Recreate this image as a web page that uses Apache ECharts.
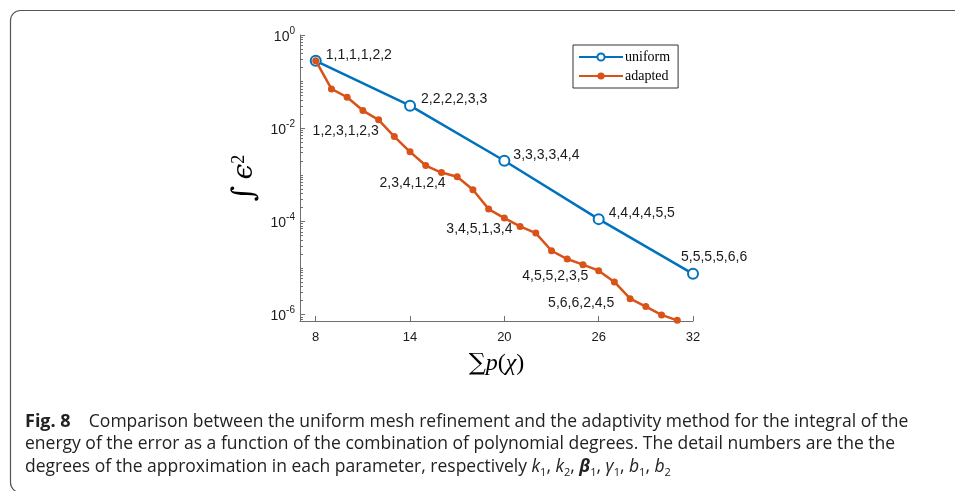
<!DOCTYPE html>
<html>
<head>
<meta charset="utf-8">
<script src="https://cdn.jsdelivr.net/npm/echarts@6/dist/echarts.min.js"></script>
<style>
html, body { margin: 0; padding: 0; background: #fff; }
#main { width: 955px; height: 491px; }
</style>
</head>
<body>
<div id="main"></div>
<script>
// sum of polynomial degrees -> integral of energy of the error
const uniformX = [8, 14, 20, 26, 32]
const uniformErr = [0.28, 0.0305, 2.0e-3, 1.12e-4, 7.5e-6]
const uniformTags = ['1,1,1,1,2,2', '2,2,2,2,3,3', '3,3,3,3,4,4', '4,4,4,4,5,5', '5,5,5,5,6,6']

const adaptedX = [8, 9, 10, 11, 12, 13, 14, 15, 16, 17, 18, 19, 20, 21, 22, 23, 24, 25, 26, 27, 28, 29, 30, 31]
const adaptedErr = [0.281, 0.0697, 0.0462, 0.0239, 0.0151, 6.6e-3, 3.11e-3, 1.58e-3, 1.12e-3, 9.06e-4,
    4.77e-4, 1.84e-4, 1.18e-4, 7.8e-5, 5.63e-5, 2.35e-5, 1.56e-5, 1.18e-5, 8.78e-6, 5.02e-6,
    2.2e-6, 1.49e-6, 9.86e-7, 7.55e-7]
const adaptedTagX = [12, 16, 20, 24, 28]
const adaptedTags = ['1,2,3,1,2,3', '2,3,4,1,2,4', '3,4,5,1,3,4', '4,5,5,2,3,5', '5,6,6,2,4,5']

const xTicks = [8, 14, 20, 26, 32]
const yTicks = [1e-6, 1e-4, 1e-2, 1]

const blue = '#0072BD'
const orange = '#D95319'
const yMin = 7.3e-7

// minor log ticks (2..9 x 10^k and the odd decades)
let yMinor = []
for (let k = -7; k < 0; k++) {
    for (let m = 1; m < 10; m++) {
        let v = m * Math.pow(10, k)
        if (v >= yMin && yTicks.indexOf(v) < 0 && !(m == 1 && k % 2 == 0)) yMinor.push(v)
    }
}

// label placement, relative to the point (text starts at dx)
const uniformOffsets = [[10, -6], [11, -6], [9, -6], [10, -6], [-12, -17]]
const adaptedOffsets = [[-66, 11], [-62, 11], [-58, 11], [-45, 17], [-82, 4]]

let tagLabel = {
    show: true,
    position: 'inside',
    align: 'left',
    verticalAlign: 'middle',
    fontFamily: 'Liberation Sans, Arial, sans-serif',
    fontSize: 14,
    color: '#1a1a1a'
}

let uniformData = uniformX.map((x, i) => ({
    value: [x, uniformErr[i]],
    label: Object.assign({}, tagLabel, { formatter: uniformTags[i], offset: uniformOffsets[i] })
}))

let adaptedData = adaptedX.map((x, i) => {
    let j = adaptedTagX.indexOf(x)
    let item = { value: [x, adaptedErr[i]] }
    if (j >= 0) item.label = Object.assign({}, tagLabel, { formatter: adaptedTags[j], offset: adaptedOffsets[j] })
    return item
})

let myChart = echarts.init(document.getElementById('main'))

let axisGray = '#6e6e6e'
let capFont = 'Open Sans, Noto Sans, sans-serif'

let option = {
    animation: false,
    backgroundColor: '#fff',
    grid: {
        left: 300,
        right: 262,
        top: 35,
        bottom: 170,
        containLabel: false
    },
    legend: {
        left: 573,
        top: 45,
        orient: 'vertical',
        data: ['uniform', 'adapted'],
        borderColor: '#333',
        borderWidth: 1,
        backgroundColor: '#fff',
        padding: [4, 8, 4, 5],
        itemGap: 3,
        itemWidth: 44,
        itemHeight: 9,
        textStyle: {
            fontFamily: 'Liberation Serif, Times New Roman, serif',
            fontSize: 14,
            lineHeight: 16,
            color: '#000',
            padding: [0, 0, 0, -3]
        }
    },
    xAxis: {
        type: 'value',
        min: 7,
        max: 32,
        name: '{s|∑}{i|p}{n|(}{i|χ}{n|)}',
        nameLocation: 'middle',
        nameGap: 31,
        nameTextStyle: {
            rich: {
                s: { fontFamily: 'DejaVu Serif, serif', fontSize: 24, color: '#000' },
                i: { fontFamily: 'Liberation Serif, serif', fontStyle: 'italic', fontSize: 24, color: '#000' },
                n: { fontFamily: 'Liberation Serif, serif', fontSize: 24, color: '#000' }
            }
        },
        splitLine: { show: false },
        axisLine: { lineStyle: { color: axisGray, width: 1 } },
        axisTick: { inside: true, length: 5, customValues: xTicks, lineStyle: { color: axisGray } },
        axisLabel: {
            customValues: xTicks,
            margin: 10,
            fontFamily: 'Liberation Sans, Arial, sans-serif',
            fontSize: 13,
            color: '#1a1a1a'
        }
    },
    yAxis: [{
        type: 'log',
        min: yMin,
        max: 1,
        name: '{i|∫}{e|ϵ}{s|2}',
        nameLocation: 'middle',
        nameRotate: 90,
        nameGap: 40,
        nameTextStyle: {
            rich: {
                i: { fontFamily: 'DejaVu Serif, serif', fontSize: 30, color: '#000', padding: [0, 6, 0, 0] },
                e: { fontFamily: 'DejaVu Serif, serif', fontStyle: 'italic', fontSize: 28, color: '#000' },
                s: { fontFamily: 'Liberation Serif, serif', fontSize: 18, color: '#000', verticalAlign: 'top', lineHeight: 18 }
            }
        },
        splitLine: { show: false },
        axisLine: { show: true, lineStyle: { color: axisGray, width: 1 } },
        axisTick: { inside: true, length: 5, customValues: yTicks, lineStyle: { color: axisGray } },
        axisLabel: {
            customValues: yTicks,
            margin: 5,
            formatter: function (v) {
                return '{b|10}{s|' + Math.round(Math.log10(v)) + '}'
            },
            rich: {
                b: { fontFamily: 'Liberation Sans, Arial, sans-serif', fontSize: 14, color: '#1a1a1a', padding: [4, 0, 0, 0] },
                s: { fontFamily: 'Liberation Sans, Arial, sans-serif', fontSize: 10, color: '#1a1a1a', verticalAlign: 'top', lineHeight: 10 }
            }
        }
    }, {
        // minor ticks only
        type: 'log',
        min: yMin,
        max: 1,
        position: 'left',
        splitLine: { show: false },
        axisLine: { show: false },
        axisLabel: { show: false },
        axisTick: { show: true, inside: true, length: 3, customValues: yMinor, lineStyle: { color: axisGray } }
    }],
    series: [{
        name: 'uniform',
        type: 'line',
        data: uniformData,
        symbol: 'emptyCircle',
        symbolSize: 10,
        lineStyle: { color: blue, width: 2.5 },
        itemStyle: { color: blue, borderWidth: 2.5 },
        z: 2
    }, {
        name: 'adapted',
        type: 'line',
        data: adaptedData,
        symbol: 'circle',
        symbolSize: 7,
        lineStyle: { color: orange, width: 2.5 },
        itemStyle: { color: orange },
        z: 3
    }],
    graphic: [{
        type: 'rect',
        left: 8,
        top: 8,
        shape: { width: 1100, height: 482, r: 10 },
        style: { fill: null, stroke: '#555', lineWidth: 1.2 },
        silent: true
    }, {
        type: 'text',
        left: 25,
        top: 413,
        style: {
            text: '{b|Fig. 8}{t|    Comparison between the uniform mesh refinement and the adaptivity method for the integral of the}\n' +
                '{t|energy of the error as a function of the combination of polynomial degrees. The detail numbers are the the}\n' +
                '{t|degrees of the approximation in each parameter, respectively }{i|k}{u|1}{t|, }{i|k}{u|2}{t|, }{bi|β}{u|1}{t|, }{i|γ}{u|1}{t|, }{i|b}{u|1}{t|, }{i|b}{u|2}',
            rich: {
                b: { fontFamily: capFont, fontWeight: 'bold', fontSize: 18, lineHeight: 22.5, fill: '#222' },
                t: { fontFamily: capFont, fontSize: 17.5, lineHeight: 22.5, fill: '#222' },
                i: { fontFamily: capFont, fontStyle: 'italic', fontSize: 17.5, lineHeight: 22.5, fill: '#222' },
                bi: { fontFamily: capFont, fontStyle: 'italic', fontWeight: 'bold', fontSize: 17.5, lineHeight: 22.5, fill: '#222' },
                u: { fontFamily: capFont, fontSize: 11, lineHeight: 11, fill: '#222', verticalAlign: 'bottom' }
            }
        },
        silent: true
    }]
}

myChart.setOption(option)
</script>
</body>
</html>
